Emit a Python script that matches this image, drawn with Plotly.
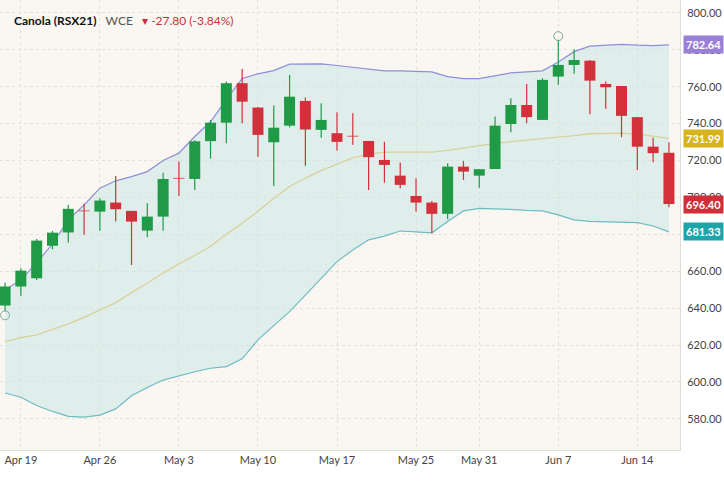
import plotly.graph_objects as go

# trading day index 0 = Apr 16 ... 42 = Jun 16
opens = [641.4, 651.7, 656.2, 673.8, 681.0, 692.9, 692.3, 697.2, 692.7, 682.0,
         689.6, 710.6, 710.0, 730.5, 740.5, 761.9, 748.7, 729.9, 738.9, 752.3,
         736.6, 734.8, 733.4, 730.6, 720.3, 711.8, 700.8, 697.2, 691.1, 716.7,
         711.8, 715.4, 739.8, 750.1, 742.0, 765.5, 771.8, 774.1, 761.5, 760.4,
         743.5, 727.5, 724.2]
highs = [653.7, 661.6, 677.5, 681.8, 696.0, 696.5, 699.6, 711.6, 692.7, 696.9,
         713.4, 719.4, 731.0, 742.0, 762.8, 769.6, 749.0, 749.8, 766.4, 754.1,
         751.0, 746.2, 745.6, 730.6, 730.2, 718.9, 710.4, 698.1, 718.5, 719.8,
         715.3, 743.8, 753.8, 761.5, 764.6, 785.4, 780.3, 774.5, 762.8, 760.4,
         743.5, 732.4, 729.9]
lows = [638.1, 646.7, 655.3, 671.9, 675.5, 679.7, 682.0, 686.9, 663.4, 678.4,
        682.0, 700.8, 704.0, 721.0, 729.4, 740.2, 722.1, 706.2, 738.0, 717.2,
        732.4, 725.4, 728.5, 704.0, 708.0, 705.0, 692.3, 680.6, 688.2, 709.5,
        705.3, 715.4, 735.3, 740.2, 742.0, 761.0, 767.0, 745.1, 748.0, 732.6,
        714.9, 719.1, 694.7]
closes = [651.7, 660.3, 676.6, 680.9, 693.8, 692.5, 698.3, 693.6, 686.9, 689.6,
          710.0, 710.2, 730.4, 740.5, 761.9, 751.9, 733.9, 737.8, 754.6, 736.8,
          742.0, 730.1, 733.0, 721.8, 717.6, 706.8, 697.2, 691.1, 716.7, 714.0,
          715.3, 738.9, 750.1, 743.5, 763.7, 771.8, 774.5, 763.3, 759.7, 744.2,
          727.5, 724.0, 696.4]
upper = [649.9, 655.3, 664.5, 674.8, 687.8, 695.9, 705.0, 709.0, 711.3, 714.0,
         720.0, 724.0, 733.0, 741.0, 753.0, 764.5, 767.0, 768.7, 772.2, 772.4,
         772.4, 771.5, 770.6, 769.5, 768.6, 768.6, 768.3, 768.0, 765.5, 764.4,
         764.4, 766.0, 767.5, 768.0, 768.6, 773.4, 779.0, 782.0, 782.5, 783.0,
         782.5, 782.3, 782.64]
middle = [621.8, 624.0, 625.5, 628.5, 631.5, 635.0, 639.0, 643.0, 648.5, 653.5,
          659.0, 664.0, 668.5, 673.5, 680.0, 686.0, 692.5, 699.5, 705.9, 710.5,
          714.5, 718.0, 721.5, 723.5, 724.6, 724.6, 724.6, 724.6, 725.5, 726.8,
          728.0, 729.3, 730.2, 731.0, 731.6, 732.3, 733.5, 734.5, 734.8, 734.8,
          734.3, 733.3, 731.99]
lower = [594.0, 591.7, 587.2, 584.0, 581.3, 580.9, 582.0, 585.4, 592.5, 597.0,
         601.0, 603.4, 605.5, 607.4, 608.3, 612.5, 622.8, 630.5, 638.1, 647.0,
         656.0, 665.2, 671.5, 677.0, 679.0, 681.8, 681.3, 680.8, 687.0, 692.7,
         694.1, 694.0, 693.5, 693.0, 692.7, 690.5, 687.8, 687.0, 686.8, 686.5,
         686.3, 684.5, 681.33]
tick_pos = [1, 6, 11, 16, 21, 26, 30, 35, 40]
tick_text = ["Apr 19", "Apr 26", "May 3", "May 10", "May 17", "May 25", "May 31", "Jun 7", "Jun 14"]
y_ticks = [580, 600, 620, 640, 660, 680, 700, 720, 740, 760, 780, 800]

GREEN = "#1f9a47"
RED = "#d2303a"

idx = list(range(len(closes)))
fig = go.Figure()
fig.add_trace(go.Scatter(x=idx, y=upper, mode="lines", line=dict(color="#8f8ed8", width=1.2),
                         hoverinfo="skip"))
fig.add_trace(go.Scatter(x=idx, y=lower, mode="lines", line=dict(color="#6cbcc6", width=1.2),
                         fill="tonexty", fillcolor="rgba(200,232,228,0.55)", hoverinfo="skip"))
fig.add_trace(go.Scatter(x=idx, y=middle, mode="lines", line=dict(color="#d9d09a", width=1.3),
                         hoverinfo="skip"))

# candles drawn as scatter segments so they sit above the band fill
for up, col in [(True, GREEN), (False, RED)]:
    wx, wy, bx, by = [], [], [], []
    for i in idx:
        if (closes[i] >= opens[i]) != up:
            continue
        wx += [i, i, None]
        wy += [lows[i], highs[i], None]
        lo, hi = sorted([opens[i], closes[i]])
        bx += [i, i, None]
        by += [lo, hi, None]
    fig.add_trace(go.Scatter(x=wx, y=wy, mode="lines", line=dict(color=col, width=1.2),
                             hoverinfo="skip"))
    fig.add_trace(go.Scatter(x=bx, y=by, mode="lines", line=dict(color=col, width=11),
                             hoverinfo="skip"))

# high / low markers
fig.add_trace(go.Scatter(x=[35, 0], y=[highs[35] + 2, lows[0] - 2], mode="markers",
                         marker=dict(symbol="circle-open", size=9, color="#7fa89a", line=dict(width=1))))

tags = [(782.64, "#9a80d6"), (731.99, "#d8b41c"), (696.40, "#cf2f38"), (681.33, "#1ea5aa")]
for val, col in tags:
    fig.add_annotation(x=1.0, xref="paper", y=val, yref="y", xanchor="left", xshift=3,
                       text=f"<b>{val:.2f}</b>", showarrow=False, bgcolor=col,
                       font=dict(color="white", size=11, family="Lato"), borderpad=2)

fig.add_annotation(x=0.018, y=0.975, xref="paper", yref="paper", xanchor="left", showarrow=False,
                   text="<b>Canola (RSX21)</b>   <span style='color:#555'>WCE</span>   "
                        "<span style='color:#c8323c'>▾ -27.80 (-3.84%)</span>",
                   font=dict(size=12, family="Lato", color="#111"))

fig.update_layout(
    width=724, height=483, margin=dict(l=0, r=44, t=0, b=33),
    paper_bgcolor="#ffffff", plot_bgcolor="#faf6f1", showlegend=False,
    font=dict(family="Lato", color="#444", size=11),
    xaxis=dict(range=[-0.32, 42.7], tickvals=tick_pos, ticktext=tick_text,
               showgrid=True, gridcolor="#e4e0da",
               griddash="dot", zeroline=False, showline=True, linecolor="#e0dcd6", ticks=""),
    yaxis=dict(range=[563.1, 807], side="right", tickvals=y_ticks, tickformat=".2f",
               showgrid=True, gridcolor="#e4e0da", griddash="dot", zeroline=False,
               showline=True, linecolor="#e0dcd6", ticks="", ticklabelstandoff=4),
)
fig.write_html("out.html", config={"displayModeBar": False},
               post_script="document.body.style.margin='0';")
